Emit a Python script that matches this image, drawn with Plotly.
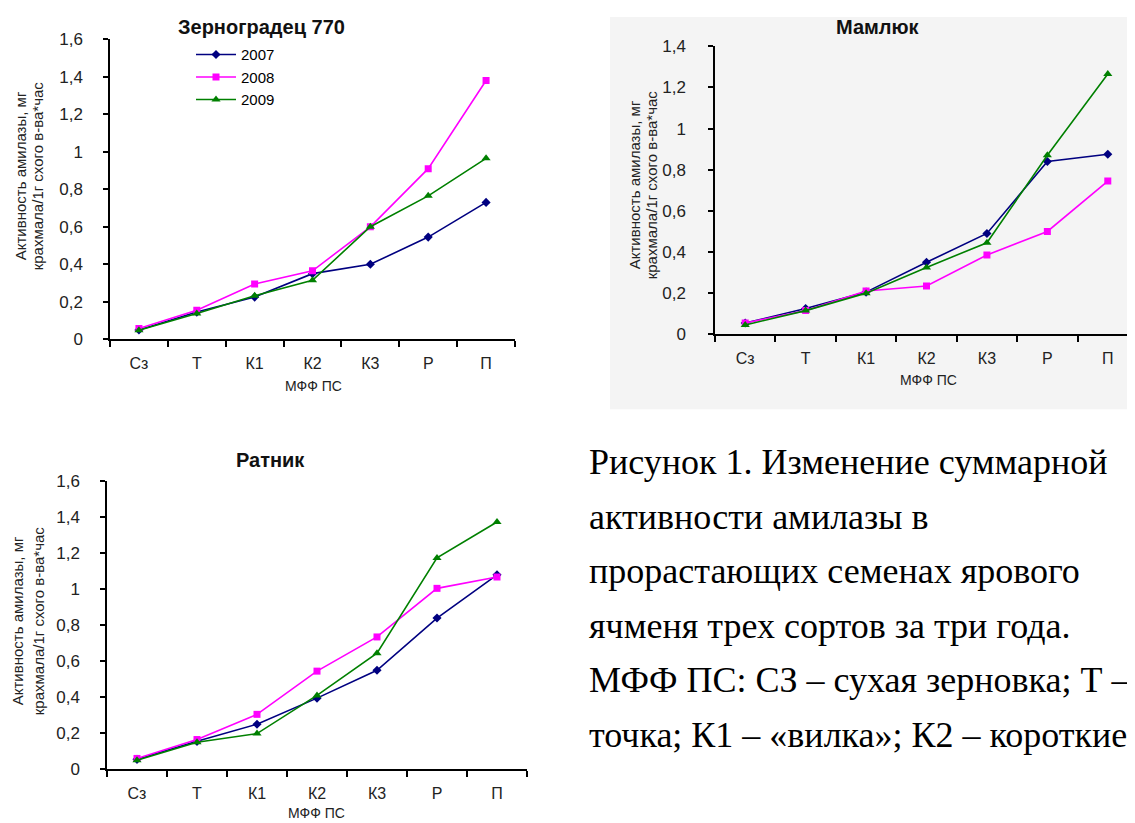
import plotly.graph_objects as go

# ---------------- data ----------------
categories = ["Сз", "Т", "К1", "К2", "К3", "Р", "П"]
years = ["2007", "2008", "2009"]

zern_2007 = [0.05, 0.145, 0.225, 0.35, 0.40, 0.545, 0.73]
zern_2008 = [0.057, 0.155, 0.295, 0.365, 0.60, 0.91, 1.38]
zern_2009 = [0.048, 0.137, 0.232, 0.315, 0.60, 0.765, 0.965]

maml_2007 = [0.055, 0.125, 0.205, 0.35, 0.49, 0.84, 0.875]
maml_2008 = [0.055, 0.115, 0.21, 0.235, 0.385, 0.50, 0.745]
maml_2009 = [0.045, 0.115, 0.20, 0.325, 0.445, 0.87, 1.265]

ratn_2007 = [0.055, 0.155, 0.25, 0.395, 0.55, 0.84, 1.08]
ratn_2008 = [0.06, 0.165, 0.305, 0.545, 0.735, 1.005, 1.068]
ratn_2009 = [0.05, 0.15, 0.198, 0.41, 0.645, 1.174, 1.374]

titles = ["Зерноградец 770", "Мамлюк", "Ратник"]
y_title_lines = ["Активность амилазы, мг", "крахмала/1г схого в-ва*час"]
x_title = "МФФ ПС"

caption_lines = [
    "Рисунок 1. Изменение суммарной",
    "активности амилазы в",
    "прорастающих семенах ярового",
    "ячменя трех сортов за три года.",
    "МФФ ПС: СЗ – сухая зерновка; Т –",
    "точка; К1 – «вилка»; К2 – короткие",
]

colors = ["#000080", "#FF00FF", "#008000"]
symbols = ["diamond", "square", "triangle-up"]
msizes = [7, 7, 8]

W, H = 1135, 823


def px(x):
    # target screen x -> paper fraction
    return (x - 5) / W


def py(y):
    # target screen y -> paper fraction
    return 1 - ((y - 16.7) / 0.977) / H


fig = go.Figure()

panels = [
    ([zern_2007, zern_2008, zern_2009], "x", "y", True),
    ([maml_2007, maml_2008, maml_2009], "x2", "y2", False),
    ([ratn_2007, ratn_2008, ratn_2009], "x3", "y3", False),
]
for series, xa, ya, show in panels:
    for i, vals in enumerate(series):
        fig.add_trace(go.Scatter(
            x=categories, y=vals, mode="lines+markers", name=years[i],
            xaxis=xa, yaxis=ya, showlegend=show,
            line=dict(color=colors[i], width=1.6),
            marker=dict(symbol=symbols[i], size=msizes[i], color=colors[i]),
        ))

ax_common = dict(showline=True, linecolor="black", linewidth=1.5, showgrid=False,
                 zeroline=False, ticks="outside", tickcolor="black", tickwidth=1.5)

# chart geometry (screen pixels): x0, x1, y_zero, y_top, ymax, ylabel standoff
geo = [
    (107, 512, 339, 39, 1.6, 17),
    (712, 1135, 334, 46, 1.4, 19),
    (104, 524, 769, 481, 1.6, 17),
]
names = [("xaxis", "yaxis", "x", "y"), ("xaxis2", "yaxis2", "x2", "y2"), ("xaxis3", "yaxis3", "x3", "y3")]
layout_axes = {}
for (x0, x1, y0, y1, ymax, so), (xn, yn, xr, yr) in zip(geo, names):
    layout_axes[xn] = dict(ax_common, domain=[px(x0), min(px(x1), 1.0)], anchor=yr,
                           type="category", range=[-0.5, 6.5], tickson="boundaries",
                           ticklen=6, tickfont=dict(size=16, color="#222"),
                           ticklabelstandoff=9)
    layout_axes[yn] = dict(ax_common, domain=[py(y0), py(y1)], anchor=xr,
                           range=[0, ymax], dtick=0.2, tick0=0, ticklen=5,
                           tickfont=dict(size=17, color="#222"), ticklabelstandoff=so)

fig.update_layout(**layout_axes)

annotations = []
# titles
for t, (x, y) in zip(titles, [(258, 27), (875, 27), (267, 460)]):
    annotations.append(dict(text="<b>" + t + "</b>", x=px(x), y=py(y), xref="paper", yref="paper",
                            showarrow=False, xanchor="center", yanchor="middle",
                            font=dict(size=20, color="#111")))
# y-axis titles (two lines each)
for (xa, xb, y) in [(17, 34, 176), (631, 648, 185), (14, 35, 621)]:
    for xx, line in zip((xa, xb), y_title_lines):
        annotations.append(dict(text=line, x=px(xx), y=py(y), xref="paper", yref="paper",
                                showarrow=False, textangle=-90, xanchor="center", yanchor="middle",
                                font=dict(size=15, color="#222")))
# x-axis titles
for (x, y) in [(310, 386), (925, 380), (314, 813)]:
    annotations.append(dict(text=x_title, x=px(x), y=py(y), xref="paper", yref="paper",
                            showarrow=False, xanchor="center", yanchor="middle",
                            font=dict(size=14, color="#222")))
# caption
for k, line in enumerate(caption_lines):
    annotations.append(dict(text=line, x=px(584), y=py(462 + k * 54.5), xref="paper", yref="paper",
                            showarrow=False, xanchor="left", yanchor="middle", align="left",
                            font=dict(size=36, family="Liberation Serif, Times New Roman, serif", color="black")))

fig.update_layout(
    width=W, height=H,
    margin=dict(l=0, r=0, t=0, b=0),
    paper_bgcolor="white",
    plot_bgcolor="rgba(0,0,0,0)",
    separators=", ",
    font=dict(family="Liberation Sans, Arial, sans-serif", color="black"),
    annotations=annotations,
    shapes=[dict(type="rect", xref="paper", yref="paper", x0=px(607), x1=1.0, y0=py(409), y1=1.0,
                 fillcolor="#F4F4F4", line=dict(width=0), layer="below")],
    legend=dict(x=px(188), y=py(38), xanchor="left", yanchor="top", bgcolor="rgba(0,0,0,0)",
                font=dict(size=15), itemwidth=40, tracegroupgap=0),
)

fig.write_html("out.html")
